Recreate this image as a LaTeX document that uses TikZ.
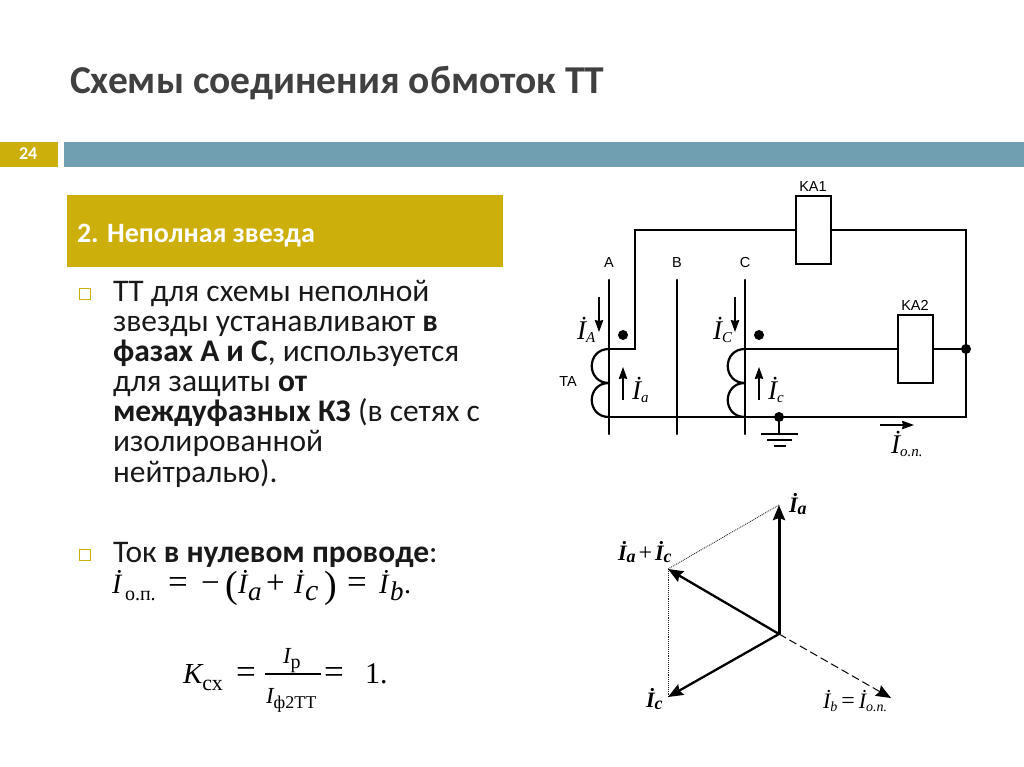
\documentclass[tikz,border=0pt]{standalone}
\usepackage{fontspec}
\setmainfont{Carlito}
\newfontfamily\serifm{Liberation Serif}
\newfontfamily\sansl{Liberation Sans}
\usetikzlibrary{arrows.meta}
\definecolor{gold}{HTML}{CCAF0A}
\definecolor{teal}{HTML}{6F9FB0}
\definecolor{titlegrey}{HTML}{404040}
\newcommand{\fs}[1]{\fontsize{#1}{#1}\selectfont}
% current symbol: size, subscript size, subscript text
\newcommand{\Cur}[3]{{\fs{#1}\serifm\itshape İ}\raisebox{-.32em}{\fs{#2}\serifm\itshape #3}}
\newcommand{\CurB}[3]{{\fs{#1}\serifm\bfseries\itshape İ}\raisebox{-.25em}{\fs{#2}\serifm\bfseries\itshape #3}}
\newcommand{\Mi}{{\fs{28}\serifm\itshape İ}}
\newcommand{\Ms}[2]{{\fs{#1}\serifm\itshape #2}}
\tikzset{
  txt/.style={inner sep=0pt,outer sep=0pt,anchor=base west},
  body/.style={txt,font=\fs{31.5}\selectfont,text=black!90},
  bullet/.style={draw=gold,line width=1.4pt,fill=white,minimum size=10.5pt,inner sep=0pt,outer sep=0pt},
  wire/.style={line width=2.2pt,line cap=round,line join=miter},
  relay/.style={draw,line width=2.2pt,fill=white,inner sep=0pt,outer sep=0pt,minimum width=35pt,minimum height=68pt},
  dotnode/.style={circle,fill=black,inner sep=0pt,minimum size=10pt},
  lab/.style={inner sep=0pt,outer sep=0pt,font=\fs{14.5}\sansl},
  cur/.style={inner sep=0pt,outer sep=0pt,anchor=base west},
  thinarrow/.style={line width=1.1pt,-{Stealth[length=12pt,width=8.5pt,inset=1pt]}},
  phasor/.style={line width=2.3pt,-{Stealth[length=15pt,width=12pt,inset=2pt]}},
  guide/.style={line width=.9pt,densely dotted,black!85},
}
\begin{document}
\begin{tikzpicture}[x=1pt,y=-1pt]
\useasboundingbox (0,0) rectangle (1024,767);
% title and bars
\node[txt,font=\fs{39.5}\bfseries,text=titlegrey] (title) at (70,94) {Схемы соединения обмоток ТТ};
\fill[gold] (0,142) rectangle (58,167);
\fill[teal] (64,142) rectangle (1024,167);
\node[txt,font=\fs{18}\bfseries,text=white] (num) at (19,160) {24};
\fill[gold] (67,195) rectangle (503,267);
\node[txt,font=\fs{28}\bfseries,text=white] (head) at (77,242) {2. Неполная звезда};
% body
\node[bullet] (b1) at (85,294) {};
\node[body] (l1) at (113,301) {ТТ для схемы неполной};
\node[body] (l2) at (113,331) {звезды устанавливают \textbf{в}};
\node[body] (l3) at (113,361) {\textbf{фазах А и С}, используется};
\node[body] (l4) at (113,391) {для защиты \textbf{от}};
\node[body] (l5) at (113,421) {\textbf{междуфазных КЗ} (в сетях с};
\node[body] (l6) at (113,451) {изолированной};
\node[body] (l7) at (113,482) {нейтралью).};
\node[bullet] (b2) at (85,555) {};
\node[body] (l8) at (113,562) {Ток \textbf{в нулевом проводе}:};
% formula 1
\node[txt] (f1a) at (112,593) {\Mi};
\node[txt] (f1b) at (125,600) {\fs{20}\serifm о.п.};
\node[txt] (f1c) at (168,593) {\fs{35}\serifm =};
\node[txt] (f1d) at (201,593) {\fs{33}\serifm −};
\node[txt] (f1e) at (225,597) {\fs{38}\serifm (};
\node[txt] (f1f) at (238,593) {\Mi};
\node[txt] (f1g) at (248,600) {\Ms{27}{a}};
\node[txt] (f1h) at (266,593) {\fs{33}\serifm +};
\node[txt] (f1i) at (294,593) {\Mi};
\node[txt] (f1j) at (305,600) {\Ms{30}{c}};
\node[txt] (f1k) at (324,597) {\fs{38}\serifm )};
\node[txt] (f1l) at (347,593) {\fs{35}\serifm =};
\node[txt] (f1m) at (379,593) {\Mi};
\node[txt] (f1n) at (390,600) {\Ms{27}{b}};
\node[txt] (f1o) at (404,593) {\fs{28}\serifm .};
% formula 2
\coordinate (barL) at (265,674);
\coordinate (barR) at (321,674);
\node[txt,font=\fs{29}\serifm] (kcx) at (183,683) {{\itshape K}\raisebox{-.25em}{\fs{22}сх}};
\node[txt] (eq1) at (236,683) {\fs{35}\serifm =};
\draw[line width=1.1pt] (barL) -- (barR);
\node[txt,font=\fs{23}\serifm] (ip) at (283,663) {{\itshape I}\raisebox{-.25em}{\fs{20}р}};
\node[txt,font=\fs{23}\serifm] (ifa) at (266,703) {{\itshape I}\raisebox{-.25em}{\fs{18}ф2ТТ}};
\node[txt] (eq2) at (324,683) {\fs{35}\serifm =};
\node[txt] (one) at (365,683) {\fs{30}\serifm 1.};
% circuit
\coordinate (Atop) at (609,280);
\coordinate (Abot) at (609,434);
\coordinate (Btop) at (677,280);
\coordinate (Bbot) at (677,434);
\coordinate (Ctop) at (745,280);
\coordinate (Cbot) at (745,434);
\coordinate (A1) at (609,349);
\coordinate (A2) at (609,383);
\coordinate (A3) at (609,417);
\coordinate (C1) at (745,349);
\coordinate (C2) at (745,383);
\coordinate (C3) at (745,417);
\coordinate (Acorner) at (635,349);
\coordinate (TopL) at (635,230);
\coordinate (TopR) at (966,230);
\coordinate (BotR) at (966,417);
\node[relay] (KA1) at (813.5,230) {};
\node[relay] (KA2) at (915.5,349) {};
\node[dotnode] (J1) at (966,349) {};
\node[dotnode] (J2) at (779,417) {};
\node[dotnode] (polA) at (623,335) {};
\node[dotnode] (polC) at (759,335) {};
\draw[wire] (Atop) -- (Abot);
\draw[wire] (Btop) -- (Bbot);
\draw[wire] (Ctop) -- (Cbot);
\draw[wire] (A1) -- (Acorner) -- (TopL) -- (KA1.west);
\draw[wire] (KA1.east) -- (TopR) -- (BotR) -- (A3);
\draw[wire] (C1) -- (KA2.west);
\draw[wire] (KA2.east) -- (J1);
\foreach \p/\q in {A1/A2,A2/A3,C1/C2,C2/C3}
  \draw[wire] (\p) .. controls +(-23,0) and +(-23,0) .. (\q);
% ground
\coordinate (G1l) at (761,434); \coordinate (G1r) at (798,434);
\coordinate (G2l) at (767,440); \coordinate (G2r) at (792,440);
\coordinate (G3l) at (774,446); \coordinate (G3r) at (786,446);
\coordinate (G0) at (779,434);
\draw[wire,line cap=butt] (J2) -- (G0);
\draw[wire,line cap=butt] (G1l) -- (G1r);
\draw[wire,line cap=butt] (G2l) -- (G2r);
\draw[wire,line cap=butt] (G3l) -- (G3r);
% circuit labels
\node[lab] (lA) at (609,263) {A};
\node[lab] (lB) at (677,263) {B};
\node[lab] (lC) at (745,263) {C};
\node[lab] (lTA) at (568,382) {TA};
\node[lab] (lK1) at (813,187) {KA1};
\node[lab] (lK2) at (915,305) {KA2};
% current arrows
\coordinate (a1s) at (599,297); \coordinate (a1e) at (599,332);
\coordinate (a2s) at (623,400); \coordinate (a2e) at (623,367);
\coordinate (a3s) at (735,297); \coordinate (a3e) at (735,332);
\coordinate (a4s) at (759,400); \coordinate (a4e) at (759,367);
\coordinate (a5s) at (880,425); \coordinate (a5e) at (914,425);
\draw[thinarrow] (a1s) -- (a1e);
\draw[thinarrow] (a2s) -- (a2e);
\draw[thinarrow] (a3s) -- (a3e);
\draw[thinarrow] (a4s) -- (a4e);
\draw[thinarrow] (a5s) -- (a5e);
\node[cur] (iA) at (577,339) {\Cur{27}{15}{A}};
\node[cur] (ia) at (632,399) {\Cur{27}{15}{a}};
\node[cur] (iC) at (713,339) {\Cur{27}{15}{C}};
\node[cur] (ic) at (768,399) {\Cur{27}{15}{c}};
\node[cur] (iop) at (891,453) {\Cur{27}{15}{o.n.}};
% phasors
\coordinate (O) at (779,634);
\coordinate (Pa) at (779,505);
\coordinate (Ps) at (668,569);
\coordinate (Pc) at (668,697);
\coordinate (Pb) at (891,698);
\draw[guide] (Pa) -- (Ps);
\draw[guide] (Ps) -- (Pc);
\draw[line width=1pt,dash pattern=on 8pt off 4pt,-{Stealth[length=15pt,width=12pt,inset=2pt]}] (O) -- (Pb);
\draw[line width=3pt,-{Stealth[length=15pt,width=12pt,inset=2pt]}] (O) -- (Pa);
\draw[phasor] (O) -- (Ps);
\draw[phasor] (O) -- (Pc);
\node[cur] (La) at (789,512) {\CurB{22}{18}{a}};
\node[cur] (Ls) at (618,560) {\CurB{22}{18}{a}\hspace{3pt}{\fs{24}\serifm +}\hspace{3pt}\CurB{22}{18}{c}};
\node[cur] (Lc) at (646,707) {\CurB{22}{18}{c}};
\node[cur] (Lb) at (823,708) {\Cur{22}{14}{b}\hspace{4pt}{\fs{24}\serifm =}\hspace{4pt}\Cur{22}{14}{o.n.}};
\end{tikzpicture}
\end{document}
